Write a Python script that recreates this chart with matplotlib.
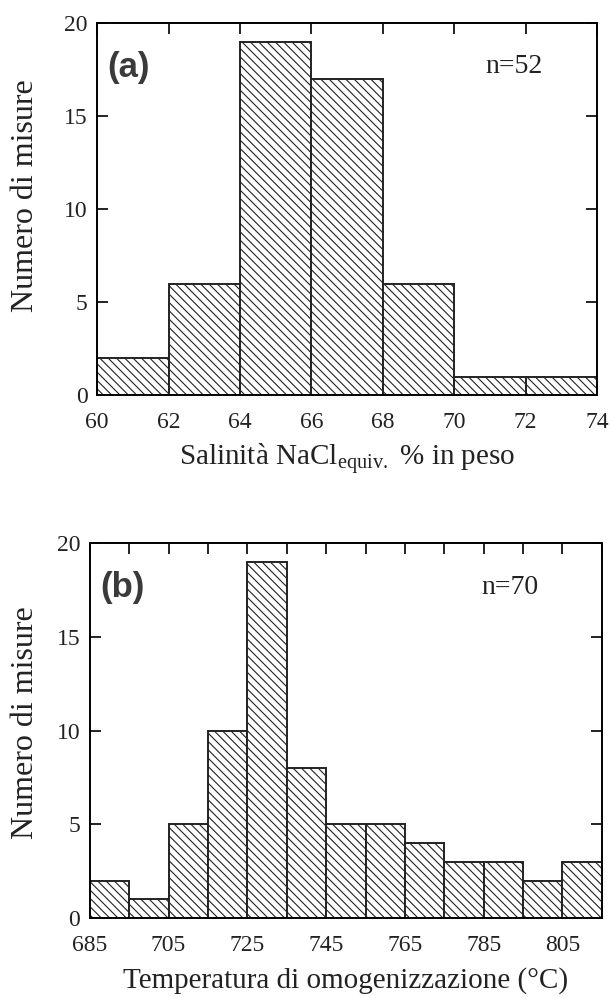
import numpy as np
import matplotlib
matplotlib.use("Agg")
import matplotlib.pyplot as plt

# ── Data ─────────────────────────────────────────────────────────────────────
sal_edges = [60, 62, 64, 66, 68, 70, 72, 74]
sal_counts = [2, 6, 19, 17, 6, 1, 1]
sal_ticklabels = ["60", "62", "64", "66", "68", "70", "72", "74"]

temp_edges = [685, 695, 705, 715, 725, 735, 745, 755, 765, 775, 785, 795, 805, 815]
temp_counts = [2, 1, 5, 10, 19, 8, 5, 5, 4, 3, 3, 2, 3]
temp_ticklabels = ["685", "705", "725", "745", "765", "785", "805"]

y_ticks = [0, 5, 10, 15, 20]

plt.rcParams["font.family"] = ["Liberation Serif", "DejaVu Serif"]
plt.rcParams["mathtext.fontset"] = "custom"
plt.rcParams["mathtext.rm"] = "Liberation Serif"
plt.rcParams["hatch.linewidth"] = 0.8
plt.rcParams["axes.linewidth"] = 1.4

INK = "#222222"

fig = plt.figure(figsize=(6.11, 9.98), dpi=100)
ax_a = fig.add_axes([0.159, 0.604, 0.818, 0.373])
ax_b = fig.add_axes([0.147, 0.080, 0.838, 0.376])


def hist_panel(ax, edges, counts, label_ticks, tag, n_text, xlabel,
               xpad, ypad, ypos, nx):
    edges = np.array(edges, dtype=float)
    ax.bar(edges[:-1], counts, width=np.diff(edges), align="edge",
           facecolor="white", edgecolor=INK, linewidth=1.4,
           hatch="\\\\\\\\", zorder=2)
    ax.set_xlim(edges[0], edges[-1])
    ax.set_ylim(0, 20)
    ax.set_yticks(y_ticks)
    ax.set_yticklabels([str(v) for v in y_ticks], fontsize=17)
    # tick marks at every bin edge, labels only where the figure shows them
    ax.set_xticks(edges)
    labels = [f"{e:g}" if f"{e:g}" in label_ticks else "" for e in edges]
    ax.set_xticklabels(labels, fontsize=17)
    ax.tick_params(direction="in", length=8, width=1.4, top=True, right=True,
                   colors=INK, labelcolor=INK)
    ax.tick_params(axis="x", pad=12)
    ax.tick_params(axis="y", pad=7)
    ax.set_ylabel("Numero di misure", fontsize=23, color=INK, labelpad=ypad)
    ax.yaxis.label.set_y(ypos)
    ax.set_xlabel(xlabel, fontsize=21, color=INK, labelpad=xpad)
    ax.text(0.02, 0.88, tag, transform=ax.transAxes, fontsize=25,
            fontweight="bold", family="Liberation Sans", color="#3a3a3a",
            va="center", ha="left")
    ax.text(nx, 0.882, n_text, transform=ax.transAxes, fontsize=20,
            color=INK, va="center", ha="center")


hist_panel(ax_a, sal_edges, sal_counts, sal_ticklabels, "(a)", "n=52",
           r"Salinità NaCl$_{\mathrm{equiv.}}$ % in peso", 6, 17, 0.535, 0.835)
hist_panel(ax_b, temp_edges, temp_counts, temp_ticklabels, "(b)", "n=70",
           "Temperatura di omogenizzazione (°C)", 8, 12, 0.52, 0.82)

fig.savefig("out.png", dpi=100)
